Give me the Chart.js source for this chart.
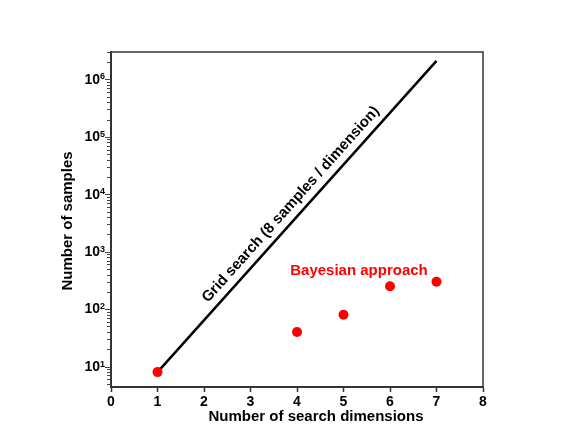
<!DOCTYPE html>
<html>
<head>
<meta charset="utf-8">
<script src="https://cdn.jsdelivr.net/npm/chart.js"></script>
<style>
    body { margin: 0; padding: 0; background: #fff; }
    canvas { display: block; }
</style>
</head>
<body>
<canvas id="chart" width="581" height="436"></canvas>
<script>
// Bayesian approach: samples needed per number of search dimensions
const bayesDims = [1, 4, 5, 6, 7];
const bayesSamples = [8, 40, 80, 250, 300];

// Grid search (8 samples / dimension): end points of the line
const gridDims = [1, 7];
const gridSamples = [8, 2097152];

// Axis ranges
const xMin = 0, xMax = 8;
const yMin = 4.4, yMax = 3000000;
const yDecades = [0, 1, 2, 3, 4, 5, 6];

const FONT = '"Liberation Sans", Arial, sans-serif';
const AXIS_COLOR = '#333';

// Draws box, log tick marks, labels and titles
const decorPlugin = {
    id: 'decor',
    afterDraw(chart) {
        const ctx = chart.ctx;
        const area = chart.chartArea;
        const xs = chart.scales.x;
        const ys = chart.scales.y;
        ctx.save();

        // top and right frame lines
        ctx.strokeStyle = AXIS_COLOR;
        ctx.lineWidth = 1.5;
        ctx.beginPath();
        ctx.moveTo(area.left, area.top);
        ctx.lineTo(area.right, area.top);
        ctx.lineTo(area.right, area.bottom);
        ctx.stroke();

        // y ticks: major and minor marks on the log axis
        ctx.strokeStyle = '#444';
        ctx.lineWidth = 1;
        for (const e of yDecades) {
            for (let m = 1; m <= 9; m++) {
                const v = m * Math.pow(10, e);
                if (v < yMin || v > yMax) continue;
                const py = Math.round(ys.getPixelForValue(v)) + 0.5;
                const tickLen = m === 1 ? 5 : 3;
                ctx.beginPath();
                ctx.moveTo(area.left - 1 - tickLen, py);
                ctx.lineTo(area.left, py);
                ctx.stroke();
            }
        }

        // y tick labels with superscript exponent
        ctx.fillStyle = '#000';
        for (const e of yDecades) {
            const v = Math.pow(10, e);
            if (v < yMin || v > yMax) continue;
            const py = ys.getPixelForValue(v);
            ctx.font = 'bold 14px ' + FONT;
            ctx.textAlign = 'right';
            ctx.textBaseline = 'middle';
            ctx.fillText('10', 100, py + 0.5);
            ctx.font = 'bold 9px ' + FONT;
            ctx.textAlign = 'left';
            ctx.textBaseline = 'top';
            ctx.fillText(String(e), 100, py - 7);
        }

        // axis titles
        ctx.font = 'bold 15px ' + FONT;
        ctx.textAlign = 'center';
        ctx.textBaseline = 'middle';
        ctx.fillText('Number of search dimensions', 316, 417);
        ctx.save();
        ctx.translate(68, 221);
        ctx.rotate(-Math.PI / 2);
        ctx.fillText('Number of samples', 0, 0);
        ctx.restore();

        // grid search label along the line
        const p0 = { x: xs.getPixelForValue(gridDims[0]), y: ys.getPixelForValue(gridSamples[0]) };
        const p1 = { x: xs.getPixelForValue(gridDims[1]), y: ys.getPixelForValue(gridSamples[1]) };
        const dx = p1.x - p0.x, dy = p1.y - p0.y;
        const dist = Math.sqrt(dx * dx + dy * dy);
        const t = (4.07 - gridDims[0]) / (gridDims[1] - gridDims[0]);
        const off = 12.6;
        const cx = p0.x + dx * t + (dy / dist) * off;
        const cy = p0.y + dy * t - (dx / dist) * off;
        ctx.save();
        ctx.translate(cx, cy);
        ctx.rotate(Math.atan2(dy, dx));
        ctx.font = 'bold 15px ' + FONT;
        ctx.fillStyle = '#000';
        ctx.fillText('Grid search (8 samples / dimension)', 0, 0);
        ctx.restore();

        // Bayesian label
        ctx.font = 'bold 15px ' + FONT;
        ctx.fillStyle = '#ff0000';
        ctx.textAlign = 'center';
        ctx.textBaseline = 'alphabetic';
        ctx.fillText('Bayesian approach', 359, 275);

        ctx.restore();
    }
};

const ctx = document.getElementById('chart').getContext('2d');
new Chart(ctx, {
    type: 'scatter',
    data: {
        datasets: [
            {
                label: 'Bayesian approach',
                data: bayesDims.map((d, i) => ({ x: d, y: bayesSamples[i] })),
                backgroundColor: '#ff0000',
                borderWidth: 0,
                pointRadius: 5,
                order: 0
            },
            {
                label: 'Grid search',
                type: 'line',
                data: gridDims.map((d, i) => ({ x: d, y: gridSamples[i] })),
                borderColor: '#000',
                borderWidth: 2.5,
                pointRadius: 0,
                showLine: true,
                fill: false,
                order: 1
            }
        ]
    },
    options: {
        responsive: false,
        animation: false,
        layout: { padding: { left: 0, right: 98, top: 52, bottom: 0 } },
        plugins: {
            legend: { display: false },
            tooltip: { enabled: false }
        },
        scales: {
            x: {
                type: 'linear',
                min: xMin,
                max: xMax,
                afterFit: s => { s.height = 49; },
                border: { display: true, color: AXIS_COLOR, width: 2 },
                grid: {
                    display: true,
                    drawOnChartArea: false,
                    drawTicks: true,
                    tickLength: 5,
                    tickWidth: 1.5,
                    tickColor: AXIS_COLOR
                },
                ticks: {
                    stepSize: 1,
                    padding: 2,
                    color: '#000',
                    font: { family: FONT, size: 14, weight: 'bold' }
                }
            },
            y: {
                type: 'logarithmic',
                min: yMin,
                max: yMax,
                afterFit: s => { s.width = 111; },
                border: { display: true, color: AXIS_COLOR, width: 2 },
                grid: { display: false, drawTicks: false },
                ticks: {
                    display: false,
                    autoSkip: false
                }
            }
        }
    },
    plugins: [decorPlugin]
});
</script>
</body>
</html>
